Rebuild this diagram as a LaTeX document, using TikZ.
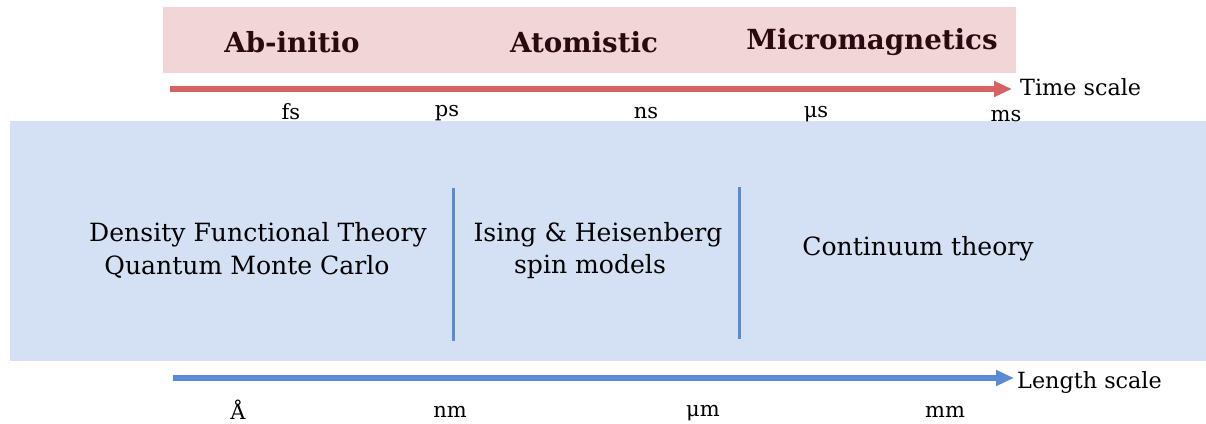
\documentclass[tikz,border=0pt]{standalone}
\usepackage{fontspec}
\setmainfont{DejaVu Serif}
\usetikzlibrary{arrows.meta}
\definecolor{pinkbg}{HTML}{F2D5D7}
\definecolor{bluebg}{HTML}{D4E0F4}
\definecolor{redarr}{HTML}{D66262}
\definecolor{bluearr}{HTML}{5B8BD6}
\definecolor{darktxt}{HTML}{2B0A0F}
\tikzset{
  head/.style={font=\fontsize{27.7}{32}\selectfont\bfseries, text=darktxt, anchor=center, inner sep=0pt},
  tick/.style={font=\fontsize{21}{25}\selectfont, anchor=center, inner sep=0pt},
  body/.style={font=\fontsize{25.1}{30}\selectfont, anchor=center, inner sep=0pt},
  axislbl/.style={font=\fontsize{22.3}{26}\selectfont, anchor=west, inner sep=0pt},
  sep/.style={bluearr, line width=3pt},
}
\begin{document}
\begin{tikzpicture}[x=1pt,y=-1pt]
\useasboundingbox (0,0) rectangle (1206,423);
\fill[pinkbg] (163,7) rectangle (1016,73);
\fill[bluebg] (10,121) rectangle (1206,361);
\node[head] (ab) at (292,42.5) {Ab-initio};
\node[head] (at) at (584,42.5) {Atomistic};
\node[head] (mm) at (872,42) {Micromagnetics};
\coordinate (t0) at (170,89);
\coordinate (t1) at (1012,89);
\draw[redarr, line width=5.5pt, -{Triangle[length=18pt,width=15pt]}] (t0) -- (t1);
\node[axislbl] (ts) at (1020,87.5) {Time scale};
\node[tick] (fs) at (291,111.5) {fs};
\node[tick] (ps) at (447,113.5) {ps};
\node[tick] (ns) at (646,113.5) {ns};
\node[tick] (us) at (816,114) {μs};
\node[tick] (ms) at (1006,116.5) {ms};
\coordinate (s1a) at (453,188);
\coordinate (s1b) at (453,341);
\coordinate (s2a) at (739,187);
\coordinate (s2b) at (739,339);
\draw[sep] (s1a) -- (s1b);
\draw[sep] (s2a) -- (s2b);
\node[body] (dft) at (258,235) {Density Functional Theory};
\node[body] (qmc) at (247,267) {Quantum Monte Carlo};
\node[body] (ih) at (598,235) {Ising \& Heisenberg};
\node[body] (sm) at (590,267) {spin models};
\node[body] (ct) at (918,249) {Continuum theory};
\coordinate (l0) at (173,378);
\coordinate (l1) at (1014,378);
\draw[bluearr, line width=5.5pt, -{Triangle[length=18pt,width=15pt]}] (l0) -- (l1);
\node[axislbl] (ls) at (1017,382) {Length scale};
\node[tick] (ang) at (238,409.5) {Å};
\node[tick] (nm) at (450,412) {nm};
\node[tick] (um) at (703,413.5) {μm};
\node[tick] (mmm) at (945,412) {mm};
\end{tikzpicture}
\end{document}
